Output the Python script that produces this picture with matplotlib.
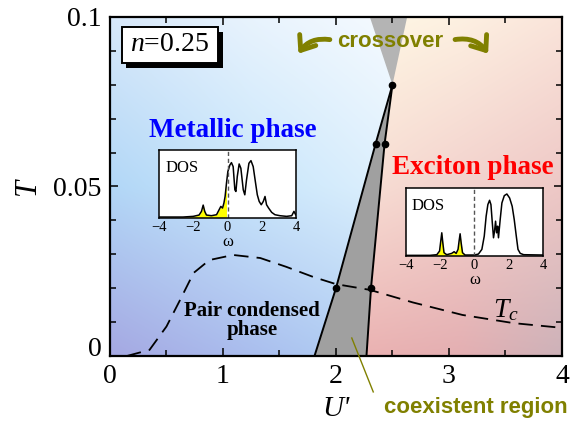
import numpy as np
import matplotlib
matplotlib.use("Agg")
import matplotlib.pyplot as plt
from matplotlib.patches import Polygon, Rectangle, FancyArrowPatch
from matplotlib.ticker import MultipleLocator, FixedLocator

plt.rcParams['font.family'] = ['Liberation Serif', 'DejaVu Serif']
plt.rcParams['mathtext.fontset'] = 'custom'
plt.rcParams['mathtext.rm'] = 'Liberation Serif'
plt.rcParams['mathtext.it'] = 'Liberation Serif:italic'

OLIVE = '#808000'

# phase boundaries
left_U = [1.81, 2.0, 2.35, 2.5]
left_T = [0.0, 0.02, 0.0625, 0.08]
right_U = [2.27, 2.31, 2.43, 2.5]
right_T = [0.0, 0.02, 0.0625, 0.08]
cross_U = [2.5, 2.30, 2.63]
cross_T = [0.08, 0.1, 0.1]

# T_c curve (dashed)
tc_U = [0.15, 0.35, 0.50, 0.62, 0.74, 0.88, 1.09, 1.33, 1.56, 1.80, 2.0, 2.3, 2.68, 3.12, 3.57, 4.0]
tc_T = [0.0, 0.0018, 0.0087, 0.0165, 0.0245, 0.0283, 0.0298, 0.0289, 0.0263, 0.0233,
        0.0212, 0.0195, 0.0158, 0.0121, 0.0097, 0.0083]

# DOS, metallic phase (inset left)
met_w = [-3.96, -2.6, -2.0, -1.66, -1.52, -1.42, -1.33, -1.23, -0.94, -0.64, -0.49, -0.39,
         -0.29, -0.21, -0.14, -0.06, 0.02, 0.14, 0.23, 0.33, 0.43, 0.49, 0.57, 0.68, 0.78,
         0.92, 1.01, 1.11, 1.25, 1.37, 1.50, 1.64, 1.74, 1.85, 1.97, 2.09, 2.19, 2.28, 2.40,
         2.58, 2.77, 3.06, 3.45, 3.75, 3.88, 3.98]
met_d = [1, 1, 3, 7, 18, 37, 18, 7, 5, 8, 23, 33, 28, 43, 63, 103, 138, 158, 165, 153, 83,
         78, 123, 161, 148, 83, 68, 113, 163, 171, 153, 103, 68, 48, 38, 48, 63, 38, 28, 15,
         8, 5, 3, 5, 18, 8]

# DOS, exciton phase (inset right)
exc_w = [-3.96, -2.6, -2.2, -2.04, -1.97, -1.91, -1.85, -1.78, -1.62, -1.33, -1.19, -1.07,
         -0.96, -0.90, -0.84, -0.78, -0.70, -0.55, 0.0, 0.23, 0.43, 0.57, 0.68, 0.78, 0.88,
         0.96, 1.04, 1.11, 1.17, 1.23, 1.29, 1.35, 1.40, 1.50, 1.60, 1.74, 1.89, 2.05, 2.20,
         2.32, 2.44, 2.54, 2.67, 2.87, 4.0]
exc_d = [0, 0, 2, 13, 43, 68, 38, 8, 2, 6, 11, 6, 18, 43, 65, 38, 8, 1, 1, 4, 18, 58, 118,
         153, 166, 153, 98, 53, 73, 103, 68, 88, 53, 108, 158, 180, 185, 173, 148, 108, 58,
         18, 6, 2, 1]

# background colour grids (rows: T low->high, cols: U low->high)
blue_grid = np.array([[(165, 168, 226), (170, 190, 238), (178, 212, 245)],
                      [(178, 215, 247), (200, 230, 251), (222, 240, 253)],
                      [(215, 232, 250), (232, 243, 253), (245, 250, 255)]]) / 255
pink_grid = np.array([[(235, 178, 178), (228, 175, 178), (205, 178, 185)],
                      [(248, 222, 212), (243, 210, 205), (238, 200, 198)],
                      [(255, 248, 228), (253, 240, 225), (250, 228, 218)]]) / 255


def gradient(grid, nx=200, ny=120):
    ctrl = np.linspace(0, 1, grid.shape[1])
    gx = np.linspace(0, 1, nx)
    gy = np.linspace(0, 1, ny)
    rows = np.array([[np.interp(gx, ctrl, grid[r, :, c]) for c in range(3)]
                     for r in range(grid.shape[0])])
    img = np.empty((ny, nx, 3))
    for c in range(3):
        for i in range(nx):
            img[:, i, c] = np.interp(gy, ctrl, rows[:, c, i])
    return img


fig = plt.figure(figsize=(5.74, 4.25), dpi=100)
ax = fig.add_axes([0.1916, 0.1624, 0.7874, 0.7976])

ax.imshow(gradient(blue_grid), extent=[0, 2.5, 0, 0.1], origin='lower',
          aspect='auto', zorder=0, interpolation='bilinear')
im = ax.imshow(gradient(pink_grid), extent=[2.2, 4, 0, 0.1], origin='lower',
               aspect='auto', zorder=0.5, interpolation='bilinear')
clip = Polygon(list(zip(right_U, right_T)) + [(2.5, 0.1), (4, 0.1), (4, 0)],
               closed=True, transform=ax.transData)
im.set_clip_path(clip)
ax.set_xlim(0, 4)
ax.set_ylim(0, 0.1)

# coexistent region and crossover wedge
coex = list(zip(left_U, left_T)) + list(zip(right_U, right_T))[::-1]
ax.add_patch(Polygon(coex, closed=True, facecolor='#a0a0a0', edgecolor='none', zorder=1))
ax.add_patch(Polygon(list(zip(cross_U, cross_T)), closed=True, facecolor='#b4b4b4',
                     edgecolor='none', zorder=1, clip_on=False))
ax.plot(left_U, left_T, color='k', lw=1.4, zorder=2)
ax.plot(right_U, right_T, color='k', lw=1.4, zorder=2)
ax.plot(left_U[1:] + right_U[1:3], left_T[1:] + right_T[1:3], 'o', color='k',
        ms=4.5, zorder=3)

ax.plot(tc_U, tc_T, color='k', lw=1.3, dashes=(8, 4.5), zorder=2)

# axes styling
for s in ax.spines.values():
    s.set_linewidth(1.6)
ax.xaxis.set_major_locator(FixedLocator([0, 1, 2, 3, 4]))
ax.xaxis.set_minor_locator(MultipleLocator(0.5))
ax.yaxis.set_major_locator(FixedLocator([0, 0.05, 0.1]))
ax.yaxis.set_minor_locator(MultipleLocator(0.01))
ax.set_xticklabels(['0', '1', '2', '3', '4'])
ax.set_yticklabels(['0', '0.05', '0.1'])
ax.tick_params(which='both', direction='in', top=True, right=True, width=1.1,
               labelsize=20)
ax.tick_params(which='major', length=6, pad=6)
ax.tick_params(which='minor', length=4.5)
ax.get_yticklabels()[0].set_va('baseline')
ax.set_xlabel("U'", fontsize=21, fontstyle='italic', labelpad=5)
ax.set_ylabel('T', fontsize=22, fontstyle='italic', labelpad=8)

# labels
ax.text(1.09, 0.0665, 'Metallic phase', color='#0000ff', fontsize=19.5,
        fontweight='bold', ha='center', va='center', zorder=5)
ax.text(3.21, 0.0555, 'Exciton phase', color='#ff0000', fontsize=19.5,
        fontweight='bold', ha='center', va='center', zorder=5)
ax.text(1.26, 0.0105, 'Pair condensed\nphase', color='k', fontsize=15,
        fontweight='bold', ha='center', va='center', linespacing=0.95, zorder=5)
ax.text(3.5, 0.0135, '$T_c$', fontsize=20, ha='center', va='center', zorder=5)

# n = 0.25 box with shadow
ax.add_patch(Rectangle((0.146, 0.0849), 0.85, 0.0106, facecolor='k', zorder=5))
ax.add_patch(Rectangle((0.106, 0.0864), 0.85, 0.0106, facecolor='white',
                       edgecolor='k', lw=1.4, zorder=6))
ax.text(0.531, 0.0918, '$n$=0.25', fontsize=20, ha='center', va='center', zorder=7)

# crossover / coexistent annotations
ax.text(2.48, 0.0928, 'crossover', color=OLIVE, fontsize=16, fontweight='bold',
        family='Liberation Sans', ha='center', va='center', zorder=7)
ax.add_patch(FancyArrowPatch((1.97, 0.0932), (1.655, 0.0885), connectionstyle='arc3,rad=0.35',
                             arrowstyle='->,head_length=0.45,head_width=0.35',
                             mutation_scale=20, color=OLIVE, lw=3.5, zorder=7))
ax.add_patch(FancyArrowPatch((3.03, 0.0932), (3.36, 0.0885), connectionstyle='arc3,rad=-0.35',
                             arrowstyle='->,head_length=0.45,head_width=0.35',
                             mutation_scale=20, color=OLIVE, lw=3.5, zorder=7))
ax.plot([2.33, 2.14], [-0.0106, 0.0053], color=OLIVE, lw=1, clip_on=False, zorder=7)
ax.text(3.24, -0.0152, 'coexistent region', color=OLIVE, fontsize=16, fontweight='bold',
        family='Liberation Sans', ha='center', va='center', clip_on=False)


def dos_inset(rect, w, d, txt_x):
    a = fig.add_axes(rect)
    a.plot(w, d, color='k', lw=1.1)
    neg_w = [x for x in w if x <= 0]
    neg_d = d[:len(neg_w)]
    a.fill_between(neg_w, 0, neg_d, color='#ffff00', lw=0)
    a.axvline(0, color='#555555', lw=1, ls=(0, (3, 2)))
    a.set_xlim(-4, 4)
    a.set_ylim(-2, 203)
    a.set_xticks([-4, -2, 0, 2, 4])
    a.set_yticks([])
    a.tick_params(length=0, labelsize=10.5, pad=2)
    a.set_xlabel('ω', fontsize=12, labelpad=0)
    for s in a.spines.values():
        s.set_linewidth(1.1)
    a.text(txt_x, 0.74, 'DOS', transform=a.transAxes, fontsize=12, va='center')
    return a


dos_inset([0.277, 0.487, 0.2387, 0.16], met_w, met_d, 0.05)
dos_inset([0.7073, 0.3976, 0.2387, 0.16], exc_w, exc_d, 0.04)

fig.savefig('out.png', dpi=100)
